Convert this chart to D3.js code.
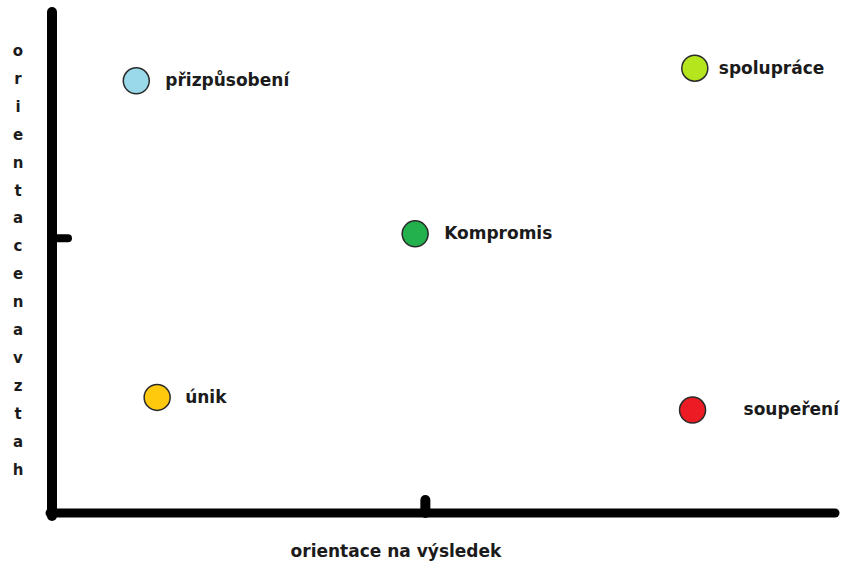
<!DOCTYPE html>
<html>
<head>
<meta charset="utf-8">
<script src="https://cdn.jsdelivr.net/npm/d3@7"></script>
<style>
  html, body { margin: 0; padding: 0; background: #fff; }
  svg { display: block; }
  text { font-family: "DejaVu Sans", Verdana, sans-serif; font-weight: bold; fill: #1b1b1b; }
</style>
</head>
<body>
<script>
// ---- data ----
const styles = ["přizpůsobení", "spolupráce", "Kompromis", "únik", "soupeření"];
const resultOrientation = [1.13, 8.62, 4.87, 1.41, 8.59];   // x
const relationOrientation = [7.85, 8.08, 5.07, 2.1, 1.87];  // y
const pointColors = ["#99d9ea", "#b5e61d", "#22b14c", "#ffc90e", "#ed1c24"];
const xTickValues = [5];
const yTickValues = [5];
const xAxisTitle = "orientace na výsledek";
const yAxisTitle = "orientacenavztah";

// ---- layout ----
const W = 843, H = 566;
const labelGap = [29, 24, 29, 28, 51];
const FS = "17px";

const svg = d3.select("body").append("svg").attr("width", W).attr("height", H);

const x = d3.scaleLinear().domain([0, 10.5]).range([52, 835]);
const y = d3.scaleLinear().domain([0, 9.1]).range([513, 12]);

// Y axis
const yAxis = svg.append("g").attr("transform", "translate(52,0)")
  .call(d3.axisLeft(y).tickValues(yTickValues).tickSize(-16).tickSizeOuter(0).tickFormat(""));
yAxis.select(".domain").remove();
yAxis.selectAll(".tick line").attr("stroke", "#000").attr("stroke-width", 8).attr("stroke-linecap", "round");
svg.append("line")
  .attr("x1", 52).attr("x2", 52).attr("y1", y.range()[1]).attr("y2", y.range()[0] + 3)
  .attr("stroke", "#000").attr("stroke-width", 10).attr("stroke-linecap", "round");

// X axis
const xAxis = svg.append("g").attr("transform", "translate(0,513)")
  .call(d3.axisBottom(x).tickValues(xTickValues).tickSize(-13).tickSizeOuter(0).tickFormat(""));
xAxis.select(".domain").remove();
xAxis.selectAll(".tick line").attr("stroke", "#000").attr("stroke-width", 10).attr("stroke-linecap", "round");
svg.append("line")
  .attr("x1", x.range()[0] - 2).attr("x2", x.range()[1]).attr("y1", 513).attr("y2", 513)
  .attr("stroke", "#000").attr("stroke-width", 9).attr("stroke-linecap", "round");

// Points
const data = styles.map((s, i) => ({ s, xv: resultOrientation[i], yv: relationOrientation[i], c: pointColors[i], g: labelGap[i] }));
svg.append("g").selectAll("circle").data(data).join("circle")
  .attr("cx", d => x(d.xv)).attr("cy", d => y(d.yv)).attr("r", 13)
  .attr("fill", d => d.c).attr("stroke", "#2a2a2a").attr("stroke-width", 1.5);

svg.append("g").selectAll("text").data(data).join("text")
  .attr("x", d => x(d.xv) + d.g).attr("y", d => y(d.yv)).attr("dy", "0.32em")
  .style("font-size", FS)
  .text(d => d.s);

// Axis titles
svg.append("text").attr("x", 396).attr("y", 557).attr("text-anchor", "middle")
  .style("font-size", FS).text(xAxisTitle);

svg.append("g").selectAll("text").data(yAxisTitle.split("")).join("text")
  .attr("x", 18).attr("y", (d, i) => 56 + i * 27.9).attr("text-anchor", "middle")
  .style("font-size", "15px").text(d => d);
</script>
</body>
</html>
